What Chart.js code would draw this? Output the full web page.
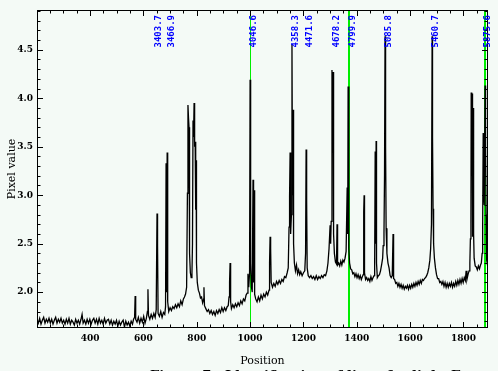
<!DOCTYPE html>
<html>
<head>
<meta charset="utf-8">
<script src="https://cdn.jsdelivr.net/npm/chart.js@4.4.0/dist/chart.umd.min.js"></script>
<style>
  html, body { margin: 0; padding: 0; background: #f4faf6; }
  canvas { display: block; }
</style>
</head>
<body>
<canvas id="grafico" width="498" height="371"></canvas>
<script>
// posições (eixo x) e valores de pixel do espectro
var posicoes = [
  201, 206, 211, 216, 221, 226, 231, 236, 241, 246, 251, 256, 261, 266, 271, 276, 281, 286, 291, 296,
  301, 306, 311, 316, 321, 326, 331, 336, 341, 346, 351, 356, 361, 366, 370, 374, 379, 384, 389, 394,
  399, 404, 409, 414, 419, 424, 429, 434, 439, 444, 449, 454, 459, 464, 469, 474, 479, 484, 489, 494,
  499, 504, 509, 514, 519, 524, 529, 534, 539, 544, 549, 554, 559, 563,
  567, 569, 571, 576, 581, 586, 591, 596, 601, 606, 611, 615, 617, 619, 624, 629, 634, 639, 644, 648,
  651, 653, 655, 660, 665, 670, 675, 680, 683, 685, 687, 689, 691, 695, 700, 705, 710, 715, 720, 725,
  730, 735, 740, 745, 750, 754, 758, 762, 765, 767, 769, 771, 773, 776, 779, 782, 784, 786, 788, 790,
  792, 794, 796, 797.5, 799, 802, 806, 810, 814, 818, 822, 826, 827, 829, 834, 839, 844, 849, 854, 859,
  864, 869, 874, 879, 884, 889, 894, 899, 904, 909, 914, 918, 921, 923, 925, 927, 930, 935, 940, 945,
  950, 955, 960, 965, 970, 975, 980, 985, 989, 992, 995, 998, 1000, 1002, 1005, 1008, 1011, 1013, 1015, 1017,
  1021, 1026, 1031, 1036, 1041, 1046, 1051, 1056, 1061, 1066, 1071, 1073, 1075, 1077, 1079, 1084, 1089, 1094, 1099, 1104,
  1109, 1114, 1119, 1124, 1129, 1134, 1139, 1143, 1146, 1148, 1150, 1152, 1155, 1157, 1159, 1161, 1163, 1166, 1170, 1174,
  1178, 1182, 1186, 1190, 1195, 1200, 1205, 1208, 1210, 1212, 1214, 1218, 1223, 1228, 1233, 1238, 1243, 1248, 1253, 1258,
  1263, 1268, 1273, 1278, 1283, 1288, 1292, 1296, 1300, 1302, 1304, 1307, 1309, 1311, 1313, 1316, 1320, 1324, 1326, 1328,
  1332, 1336, 1340, 1344, 1348, 1352, 1356, 1360, 1364, 1366, 1367.5, 1370, 1373, 1377, 1381, 1385, 1389, 1393, 1397, 1401,
  1405, 1409, 1413, 1417, 1421, 1424, 1426, 1427.5, 1429, 1433, 1437, 1441, 1445, 1449, 1453, 1457, 1461, 1465, 1467, 1469,
  1471, 1472.5, 1474, 1477, 1481, 1485, 1489, 1493, 1497, 1499, 1502, 1504, 1506, 1508, 1510, 1513, 1517, 1521, 1525, 1529,
  1533, 1536, 1538, 1542, 1546, 1550, 1554, 1558, 1562, 1566, 1570, 1574, 1578, 1582, 1586, 1590, 1594, 1598, 1602, 1606,
  1610, 1614, 1618, 1622, 1626, 1630, 1634, 1638, 1642, 1646, 1650, 1654, 1658, 1662, 1666, 1670, 1674, 1677, 1680, 1682.5,
  1684, 1686, 1688, 1691, 1695, 1699, 1703, 1707, 1711, 1715, 1719, 1723, 1727, 1731, 1735, 1739, 1743, 1747, 1751, 1755,
  1759, 1763, 1767, 1771, 1775, 1779, 1783, 1787, 1791, 1795, 1799, 1803, 1807, 1810, 1813, 1817, 1821, 1824, 1826, 1828,
  1829, 1831, 1832.5, 1834, 1836, 1838, 1840, 1844, 1848, 1852, 1856, 1860, 1864, 1867, 1870, 1872, 1874, 1876, 1878, 1881,
  1883, 1885, 1887, 1890, 1892
];
var valores = [
  1.72, 1.68, 1.73, 1.67, 1.71, 1.74, 1.68, 1.72, 1.69, 1.73, 1.68, 1.72, 1.67, 1.71, 1.74, 1.68, 1.72, 1.69, 1.73, 1.68,
  1.71, 1.67, 1.72, 1.68, 1.73, 1.67, 1.71, 1.69, 1.66, 1.72, 1.68, 1.71, 1.67, 1.72, 1.77, 1.68, 1.71, 1.67, 1.72, 1.68,
  1.72, 1.67, 1.71, 1.73, 1.68, 1.72, 1.67, 1.73, 1.68, 1.71, 1.67, 1.73, 1.68, 1.71, 1.72, 1.67, 1.71, 1.66, 1.70, 1.67,
  1.71, 1.65, 1.70, 1.66, 1.69, 1.71, 1.64, 1.70, 1.66, 1.69, 1.65, 1.70, 1.67, 1.72,
  1.74, 1.96, 1.72, 1.69, 1.74, 1.68, 1.73, 1.69, 1.75, 1.68, 1.73, 1.80, 2.03, 1.76, 1.72, 1.77, 1.73, 1.78, 1.74, 1.82,
  2.81, 2.48, 1.78, 1.75, 1.80, 1.74, 1.79, 1.77, 1.85, 3.33, 2.00, 3.44, 1.90, 1.80, 1.84, 1.81, 1.85, 1.83, 1.87, 1.84,
  1.88, 1.85, 1.91, 1.87, 1.93, 1.95, 1.98, 2.05, 3.02, 3.93, 3.80, 3.70, 2.40, 2.20, 2.15, 2.20, 2.50, 3.77, 3.60, 3.95,
  3.50, 3.55, 2.85, 3.36, 2.30, 2.10, 2.02, 1.99, 1.94, 1.95, 1.89, 1.93, 2.05, 1.86, 1.83, 1.80, 1.82, 1.78, 1.81, 1.77,
  1.80, 1.76, 1.81, 1.78, 1.82, 1.79, 1.84, 1.80, 1.84, 1.81, 1.85, 1.86, 1.95, 2.10, 2.30, 1.90, 1.83, 1.87, 1.84, 1.88,
  1.85, 1.89, 1.86, 1.91, 1.88, 1.93, 1.91, 1.97, 1.99, 2.19, 2.05, 2.20, 4.19, 2.30, 2.05, 2.00, 3.16, 2.10, 3.05, 1.98,
  1.93, 1.90, 1.95, 1.91, 1.97, 1.93, 1.98, 1.95, 2.00, 1.97, 2.02, 2.30, 2.57, 2.45, 2.10, 2.05, 2.09, 2.06, 2.11, 2.08,
  2.12, 2.09, 2.13, 2.11, 2.16, 2.15, 2.20, 2.25, 2.67, 2.98, 3.44, 2.60, 2.80, 4.56, 3.00, 3.88, 2.50, 2.30, 2.22, 2.28,
  2.19, 2.23, 2.18, 2.21, 2.17, 2.20, 2.22, 2.40, 3.47, 2.94, 2.25, 2.17, 2.15, 2.17, 2.14, 2.16, 2.13, 2.17, 2.13, 2.16,
  2.14, 2.17, 2.15, 2.18, 2.17, 2.22, 2.30, 2.45, 2.69, 2.50, 2.73, 4.29, 3.80, 4.27, 2.60, 2.40, 2.31, 2.29, 2.70, 2.28,
  2.30, 2.27, 2.32, 2.28, 2.33, 2.31, 2.35, 2.42, 3.08, 2.60, 4.12, 2.45, 2.30, 2.24, 2.23, 2.19, 2.20, 2.16, 2.19, 2.15,
  2.18, 2.14, 2.17, 2.13, 2.16, 2.18, 2.83, 3.00, 2.20, 2.13, 2.15, 2.12, 2.14, 2.11, 2.16, 2.12, 2.15, 2.17, 2.25, 3.45,
  2.50, 3.56, 2.30, 2.15, 2.17, 2.18, 2.22, 2.28, 2.35, 2.48, 2.60, 3.20, 4.64, 3.50, 2.66, 2.40, 2.30, 2.25, 2.17, 2.15,
  2.17, 2.60, 2.14, 2.13, 2.09, 2.10, 2.06, 2.09, 2.05, 2.08, 2.04, 2.07, 2.03, 2.06, 2.04, 2.07, 2.03, 2.07, 2.04, 2.08,
  2.05, 2.09, 2.06, 2.10, 2.07, 2.11, 2.08, 2.12, 2.09, 2.13, 2.12, 2.14, 2.15, 2.17, 2.20, 2.25, 2.33, 2.45, 2.70, 4.64,
  3.60, 2.86, 2.50, 2.35, 2.25, 2.18, 2.14, 2.14, 2.10, 2.11, 2.08, 2.11, 2.06, 2.10, 2.05, 2.09, 2.05, 2.09, 2.06, 2.10,
  2.05, 2.09, 2.06, 2.11, 2.07, 2.12, 2.08, 2.13, 2.09, 2.14, 2.10, 2.15, 2.12, 2.22, 2.13, 2.18, 2.22, 2.30, 2.55, 2.71,
  4.06, 3.20, 4.05, 2.57, 3.90, 2.60, 2.35, 2.27, 2.26, 2.23, 2.27, 2.24, 2.28, 2.30, 2.40, 2.70, 3.64, 3.00, 2.90, 4.13,
  3.50, 2.80, 2.33, 2.28, 2.25
];

// linhas identificadas (rótulos azuis no topo)
var rotulosLinhas = ['3403.7', '3466.9', '4046.6', '4358.3', '4471.6', '4678.2', '4799.9', '5085.8', '5460.7', '5875.6'];
var posicoesRotulos = [659, 707, 1013, 1169, 1225, 1326, 1386, 1519, 1697, 1892];

// linhas verdes de referência
var linhasVerdes = [998, 1370, 1881];

// limites dos eixos
var limitesX = [201, 1892];
var limitesY = [1.63, 4.91];

var pontos = posicoes.map(function (p, i) { return { x: p, y: valores[i] }; });

// plugin que desenha moldura, ticks internos, linhas verdes e textos
var moldura = {
  id: 'moldura',
  beforeDraw: function (chart) {
    var c = chart.ctx;
    c.save();
    c.fillStyle = '#f4faf6';
    c.fillRect(0, 0, chart.width, chart.height);
    c.restore();
  },
  beforeDatasetsDraw: function (chart) {
    var c = chart.ctx, a = chart.chartArea, sx = chart.scales.x;
    c.save();
    c.strokeStyle = '#00ee00';
    linhasVerdes.forEach(function (v, i) {
      var px = Math.round(sx.getPixelForValue(v));
      c.lineWidth = i === 0 ? 1 : 2;
      c.beginPath();
      c.moveTo(px + (i === 0 ? 0.5 : 0), a.top);
      c.lineTo(px + (i === 0 ? 0.5 : 0), a.bottom);
      c.stroke();
    });
    c.restore();
  },
  afterDraw: function (chart) {
    var c = chart.ctx, a = chart.chartArea;
    var sx = chart.scales.x, sy = chart.scales.y;
    c.save();
    c.strokeStyle = '#000';
    c.lineWidth = 1;
    c.strokeRect(a.left + 0.5, a.top + 0.5, a.right - a.left - 1, a.bottom - a.top - 1);

    c.beginPath();
    // ticks do eixo x (a cada 50, maiores a cada 200)
    for (var v = Math.ceil(sx.min / 50) * 50; v <= sx.max; v += 50) {
      var px = Math.round(sx.getPixelForValue(v)) + 0.5;
      var len = v % 200 === 0 ? 6 : 3.5;
      c.moveTo(px, a.bottom); c.lineTo(px, a.bottom - len);
      c.moveTo(px, a.top); c.lineTo(px, a.top + len);
    }
    // ticks do eixo y (a cada 0.1, maiores a cada 0.5)
    for (var k = Math.ceil(sy.min * 10); k <= Math.floor(sy.max * 10); k++) {
      var py = Math.round(sy.getPixelForValue(k / 10)) + 0.5;
      var ly = k % 5 === 0 ? 6 : 3.5;
      c.moveTo(a.left, py); c.lineTo(a.left + ly, py);
      c.moveTo(a.right, py); c.lineTo(a.right - ly, py);
    }
    c.stroke();

    // rótulos das linhas
    c.fillStyle = '#0000ff';
    c.font = 'bold 9px "DejaVu Sans Mono"';
    c.textAlign = 'right';
    c.textBaseline = 'middle';
    rotulosLinhas.forEach(function (t, i) {
      var px = sx.getPixelForValue(posicoesRotulos[i]);
      c.save();
      c.translate(px, a.top + 5);
      c.rotate(-Math.PI / 2);
      c.fillText(t, 0, 0);
      c.restore();
    });

    // títulos dos eixos
    c.fillStyle = '#000';
    c.font = '11px "DejaVu Serif"';
    c.textAlign = 'center';
    c.textBaseline = 'middle';
    c.fillText('Position', (a.left + a.right) / 2, 361);
    c.save();
    c.translate(12, (a.top + a.bottom) / 2);
    c.rotate(-Math.PI / 2);
    c.fillText('Pixel value', 0, 0);
    c.restore();

    // legenda da figura (cortada na borda inferior)
    c.font = 'bold 13px "DejaVu Serif"';
    c.textAlign = 'left';
    c.textBaseline = 'alphabetic';
    c.fillText('Figure 7.  Identification of lines for light Ex', 150, 380);
    c.restore();
  }
};

var ctx = document.getElementById('grafico').getContext('2d');
new Chart(ctx, {
  type: 'scatter',
  data: {
    datasets: [{
      data: pontos,
      showLine: true,
      borderColor: '#000',
      borderWidth: 1.3,
      pointRadius: 0,
      tension: 0
    }]
  },
  options: {
    responsive: false,
    animation: false,
    events: [],
    layout: { padding: { left: 0, right: 10, top: 10, bottom: 0 } },
    plugins: { legend: { display: false }, tooltip: { enabled: false } },
    scales: {
      x: {
        type: 'linear',
        min: limitesX[0],
        max: limitesX[1],
        afterFit: function (s) { s.height = 43; },
        grid: { display: false, drawTicks: false },
        border: { display: false },
        ticks: {
          stepSize: 200,
          includeBounds: false,
          padding: 5,
          color: '#000',
          font: { family: 'DejaVu Serif', size: 9, weight: 'bold' },
          maxRotation: 0,
          autoSkip: false,
          callback: function (v) { return String(v); }
        }
      },
      y: {
        type: 'linear',
        min: limitesY[0],
        max: limitesY[1],
        afterFit: function (s) { s.width = 37; },
        grid: { display: false, drawTicks: false },
        border: { display: false },
        ticks: {
          stepSize: 0.5,
          includeBounds: false,
          padding: 4,
          color: '#000',
          font: { family: 'DejaVu Serif', size: 9, weight: 'bold' },
          callback: function (v) { return v.toFixed(1); }
        }
      }
    }
  },
  plugins: [moldura]
});
</script>
</body>
</html>
